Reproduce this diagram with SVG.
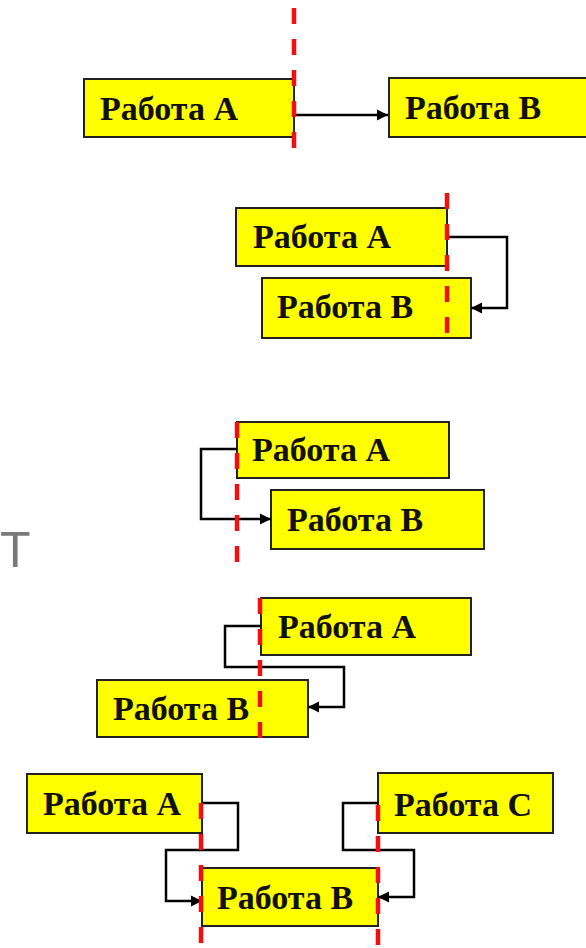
<svg xmlns="http://www.w3.org/2000/svg" width="586" height="948" viewBox="0 0 586 948">
<style>
.box{fill:#FFFF00;stroke:#222;stroke-width:2}
.lbl{font-family:"Liberation Serif","Times New Roman",serif;font-weight:bold;font-size:34px;fill:#111}
.con{fill:none;stroke:#000;stroke-width:2.5}
.red{stroke:#F01010;stroke-width:4.5;stroke-dasharray:16 15;fill:none}
</style>
<defs>
<marker id="ah" viewBox="0 0 10 10" refX="10" refY="5" markerWidth="4.5" markerHeight="4.5" orient="auto" markerUnits="strokeWidth">
<path d="M0,0 L10,5 L0,10 z" fill="#000"/>
</marker>
</defs>
<rect width="586" height="948" fill="#fff"/>

<g id="p1-a"><rect class="box" x="84" y="79" width="210" height="58"/><text class="lbl" x="100" y="120">Работа А</text></g>
<g id="p1-b"><rect class="box" x="389" y="78" width="210" height="59"/><text class="lbl" x="405" y="119">Работа В</text></g>

<g id="p2-a"><rect class="box" x="236" y="208" width="211" height="58"/><text class="lbl" x="253" y="248">Работа А</text></g>
<g id="p2-b"><rect class="box" x="262" y="278" width="209" height="60"/><text class="lbl" x="277" y="318">Работа В</text></g>

<g id="p3-a"><rect class="box" x="237" y="422" width="212" height="56"/><text class="lbl" x="252" y="461">Работа А</text></g>
<g id="p3-b"><rect class="box" x="271" y="490" width="213" height="59"/><text class="lbl" x="287" y="531">Работа В</text></g>

<g id="p4-a"><rect class="box" x="261" y="598" width="210" height="57"/><text class="lbl" x="278" y="638">Работа А</text></g>
<g id="p4-b"><rect class="box" x="97" y="680" width="211" height="57"/><text class="lbl" x="113" y="720">Работа В</text></g>

<g id="p5-a"><rect class="box" x="27" y="774" width="175" height="59"/><text class="lbl" x="43" y="815">Работа А</text></g>
<g id="p5-b"><rect class="box" x="202" y="868" width="176" height="58"/><text class="lbl" x="217" y="909">Работа В</text></g>
<g id="p5-c"><rect class="box" x="378" y="773" width="175" height="60"/><text class="lbl" x="394" y="816">Работа С</text></g>

<g id="connectors">
<path class="con" d="M294,115 H388" marker-end="url(#ah)"/>
<path class="con" d="M447,237 H507 V308 H471" stroke-width="3" marker-end="url(#ah)"/>
<path class="con" d="M237,449 H201 V519 H271" stroke-width="3" marker-end="url(#ah)"/>
<path class="con" d="M261,626 H225 V667 H344 V707 H308" marker-end="url(#ah)"/>
<path class="con" d="M202,803 H238 V850 H166 V901 H202" marker-end="url(#ah)"/>
<path class="con" d="M378,803 H343 V850 H414 V897 H378" marker-end="url(#ah)"/>
</g>

<g id="time-lines">
<line class="red" x1="294" y1="8" x2="294" y2="150"/>
<line class="red" x1="447" y1="193" x2="447" y2="338"/>
<line class="red" x1="237" y1="422" x2="237" y2="562"/>
<line class="red" x1="260" y1="598" x2="260" y2="738"/>
<line class="red" x1="201" y1="803" x2="201" y2="948"/>
<line class="red" x1="378" y1="805" x2="378" y2="948"/>
</g>

<text x="0" y="567" font-family="'Liberation Sans',Arial,sans-serif" font-size="50" fill="#7a7a7a">T</text>
</svg>
